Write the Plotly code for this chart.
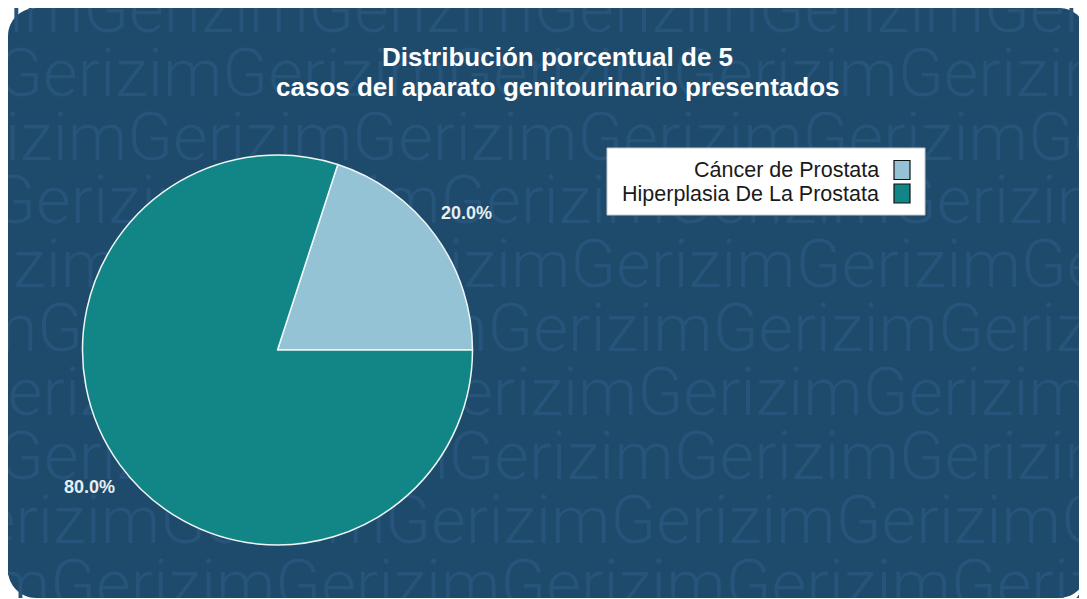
import math
import plotly.graph_objects as go

# ---------------- data ----------------
labels = ["Cáncer de Prostata", "Hiperplasia De La Prostata"]
values = [1, 4]
colors = ["#93c3d5", "#128686"]
title_lines = ["Distribución porcentual de 5", "casos del aparato genitourinario presentados"]
watermark_word = "Gerizim"

# ---------------- layout constants ----------------
# The page body has an 8px margin, so the figure starts at page (8, 8).
OX, OY = 8, 8
W, H = 1079, 590
BG = "#1e4a6b"
WM = "#26547a"
CX, CY, R = 277.5, 350.0, 195.0      # page pixels
LABEL_R = 233.0


def fx(x):  # page px -> paper
    return (x - OX) / W


def fy(y):
    return 1 - (y - OY) / H


def rounded_path(x0, y0, x1, y1, r):
    k = 0.5523 * r
    pts = [
        f"M {fx(x0 + r)},{fy(y0)}",
        f"L {fx(x1 - r)},{fy(y0)}",
        f"C {fx(x1 - r + k)},{fy(y0)} {fx(x1)},{fy(y0 + r - k)} {fx(x1)},{fy(y0 + r)}",
        f"L {fx(x1)},{fy(y1 - r)}",
        f"C {fx(x1)},{fy(y1 - r + k)} {fx(x1 - r + k)},{fy(y1)} {fx(x1 - r)},{fy(y1)}",
        f"L {fx(x0 + r)},{fy(y1)}",
        f"C {fx(x0 + r - k)},{fy(y1)} {fx(x0)},{fy(y1 - r + k)} {fx(x0)},{fy(y1 - r)}",
        f"L {fx(x0)},{fy(y0 + r)}",
        f"C {fx(x0)},{fy(y0 + r - k)} {fx(x0 + r - k)},{fy(y0)} {fx(x0 + r)},{fy(y0)}",
        "Z",
    ]
    return " ".join(pts)


fig = go.Figure()

# watermark rows (clipped by the axis area)
row_offsets = [93, 7, 137, 0, 130, 47, 197, 8, 170, 60]
wm_x, wm_y, wm_t = [], [], []
for k, off in enumerate(row_offsets):
    baseline = 37 + 63.9 * k
    wm_x.append(off - 235)
    wm_y.append(baseline - 22)
    wm_t.append(watermark_word * 7)
fig.add_trace(go.Scatter(
    x=wm_x, y=wm_y, text=wm_t, mode="text", textposition="middle right",
    textfont=dict(family="Roboto", size=67, weight=300, color=WM),
    hoverinfo="skip", showlegend=False, cliponaxis=True,
))

total = sum(values)
first_frac = values[0] / total

# pie
fig.add_trace(go.Pie(
    labels=labels, values=values, sort=False, direction="counterclockwise",
    rotation=90 - 360 * first_frac, textinfo="none",
    marker=dict(colors=colors, line=dict(color="#eef6f6", width=1.5)),
    domain=dict(x=[fx(CX - R), fx(CX + R)], y=[fy(CY + R), fy(CY - R)]),
    showlegend=False, hoverinfo="label+percent",
))

annotations = []
cum = 0
for v in values:
    theta = math.radians(360 * (cum + v / 2) / total)
    cum += v
    annotations.append(dict(
        x=CX + LABEL_R * math.cos(theta), y=CY - LABEL_R * math.sin(theta),
        xref="x", yref="y", text=f"<b>{v / total:.1%}</b>", showarrow=False,
        font=dict(family="Liberation Sans, Arial", size=18, color="#e6eef2"),
    ))

# title
for i, line in enumerate(title_lines):
    annotations.append(dict(
        x=557, y=57 + 30 * i, xref="x", yref="y", text=f"<b>{line}</b>",
        showarrow=False,
        font=dict(family="Liberation Sans, Arial", size=26, color="white"),
    ))

shapes = [
    dict(type="path", path=rounded_path(OX, OY, OX + W, OY + H, 28), xref="paper", yref="paper",
         fillcolor=BG, line=dict(width=0), layer="below"),
    dict(type="rect", x0=607, x1=925, y0=148, y1=215, xref="x", yref="y",
         fillcolor="white", line=dict(color="#c8c8c8", width=1), layer="above"),
]
# custom legend (swatches on the right of the labels)
for i, (lab, col) in enumerate(zip(labels, colors)):
    yc = 170 + 23.5 * i
    shapes.append(dict(type="rect", x0=894, x1=910, y0=yc - 9.5, y1=yc + 9.5,
                       xref="x", yref="y", fillcolor=col,
                       line=dict(color="#111111", width=1.2), layer="above"))
    annotations.append(dict(
        x=881, y=yc, xref="x", yref="y", text=lab, showarrow=False,
        xanchor="right", yanchor="middle",
        font=dict(family="Liberation Sans, Arial", size=21.5, color="#1a1a1a"),
    ))

fig.update_layout(
    width=W, height=H, margin=dict(l=0, r=0, t=0, b=0),
    paper_bgcolor="rgba(0,0,0,0)", plot_bgcolor="rgba(0,0,0,0)",
    showlegend=False,
    xaxis=dict(range=[OX, OX + W], domain=[0, 1], visible=False, fixedrange=True),
    yaxis=dict(range=[OY + H, OY], domain=[0, 1], visible=False, fixedrange=True),
    shapes=shapes, annotations=annotations,
)

fig.write_html("out.html")
